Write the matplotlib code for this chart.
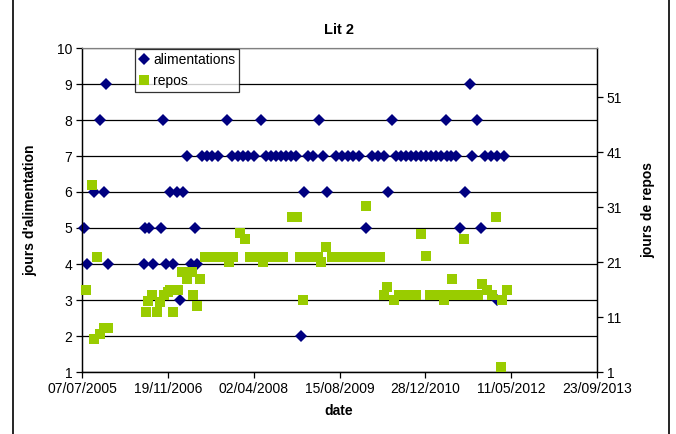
import matplotlib
matplotlib.use("Agg")
import matplotlib.pyplot as plt
import matplotlib.dates as mdates
from matplotlib.lines import Line2D
import pandas as pd

plt.rcParams['font.family'] = ['Liberation Sans', 'DejaVu Sans']

# Dates are Excel serial day numbers (origin 1899-12-30)
alim_dates = [
    38552, 38572, 38610, 38645, 38668, 38677, 38691, 38900, 38906, 38932,
    38953, 38999, 39011, 39031, 39052, 39072, 39092, 39110, 39127, 39153,
    39177, 39197, 39212, 39238, 39267, 39296, 39331, 39383, 39412, 39447,
    39476, 39505, 39540, 39584, 39610, 39639, 39668, 39697, 39726, 39755,
    39784, 39813, 39831, 39854, 39883, 39918, 39941, 39970, 40017, 40052,
    40087, 40121, 40156, 40197, 40232, 40267, 40302, 40325, 40348, 40371,
    40400, 40430, 40459, 40488, 40517, 40546, 40575, 40604, 40633, 40664,
    40662, 40691, 40720, 40744, 40773, 40802, 40813, 40842, 40866, 40889,
    40924, 40955, 40959, 40999,
]
alim_values = [
    5, 4, 6, 8, 6, 9, 4, 4, 5, 5,
    4, 5, 8, 4, 6, 4, 6, 3, 6, 7,
    4, 5, 4, 7, 7, 7, 7, 8, 7, 7,
    7, 7, 7, 8, 7, 7, 7, 7, 7, 7,
    7, 2, 6, 7, 7, 8, 7, 6, 7, 7,
    7, 7, 7, 5, 7, 7, 7, 6, 8, 7,
    7, 7, 7, 7, 7, 7, 7, 7, 7, 7,
    8, 7, 7, 5, 6, 9, 7, 8, 5, 7,
    7, 3, 7, 7,
]

repos_dates = [
    38563, 38598, 38610, 38630, 38645, 38668, 38691, 38912, 38924, 38947,
    38976, 38993, 39017, 39040, 39052, 39069, 39098, 39121, 39150, 39180,
    39185, 39209, 39226, 39255, 39284, 39313, 39342, 39366, 39395, 39418,
    39459, 39488, 39517, 39546, 39575, 39592, 39621, 39650, 39680, 39709,
    39761, 39790, 39807, 39825, 39837, 39866, 39895, 39912, 39935, 39964,
    39994, 40023, 40052, 40081, 40110, 40139, 40168, 40197, 40220, 40249,
    40278, 40302, 40319, 40360, 40389, 40418, 40453, 40488, 40517, 40546,
    40569, 40598, 40627, 40650, 40680, 40697, 40720, 40749, 40767, 40796,
    40825, 40848, 40871, 40900, 40930, 40953, 40982, 40988, 41017,
]
repos_values = [
    16, 35, 7, 22, 8, 9, 9, 12, 14, 15,
    12, 13.7, 15, 15.5, 16, 12, 16, 19.3, 18, 19.3,
    15, 13, 18, 22, 22, 22, 22, 22, 21, 22,
    26.3, 25.2, 22, 22, 22, 21, 22, 22, 22, 22,
    29.3, 29.3, 22, 14.2, 22, 22, 22, 22, 21, 23.7,
    22, 22, 22, 22, 22, 22, 22, 31.3, 22, 22,
    22, 15, 16.4, 14.2, 15, 15, 15, 15, 26.1, 22.1,
    15, 15, 15, 14.2, 15, 18, 15, 15, 25.2, 15,
    15, 15, 17, 16, 15, 29.3, 1.9, 14.2, 16,
]

x_tick_serials = [38540, 39040, 39540, 40040, 40540, 41040, 41540]
x_limits = (38540, 41540)
left_ticks = list(range(1, 11))
right_ticks = [1, 11, 21, 31, 41, 51]


def to_dates(serials):
    return pd.to_datetime(pd.Series(serials), unit='D', origin='1899-12-30')


W, H = 676, 434
fig = plt.figure(figsize=(W / 100, H / 100), dpi=100)
fig.patch.set_facecolor('white')

L, R, T, B = 82, 597, 48, 372
ax = fig.add_axes([L / W, 1 - B / H, (R - L) / W, (B - T) / H])
ax2 = ax.twinx()

navy = '#000080'
green = '#99CC00'
d_size = 5.9
s_size = 7.5

ax.plot(to_dates(alim_dates), alim_values, linestyle='none', marker='D',
        markersize=d_size, color=navy, markeredgewidth=0, zorder=3,
        clip_on=False)
ax2.plot(to_dates(repos_dates), repos_values, linestyle='none', marker='s',
         markersize=s_size, color=green, markeredgewidth=0, zorder=3,
         clip_on=False)

ax.set_xlim(to_dates(list(x_limits)))
ax.set_xticks(to_dates(x_tick_serials))
ax.xaxis.set_major_formatter(mdates.DateFormatter('%d/%m/%Y'))

ax.set_ylim(1, 10)
ax.set_yticks(left_ticks)
ax2.set_ylim(1, 60)
ax2.set_yticks(right_ticks)

ax.yaxis.grid(True, color='black', linewidth=0.9)
ax.set_axisbelow(True)

for a in (ax, ax2):
    a.tick_params(axis='both', direction='out', length=4, width=0.9,
                  colors='black', labelsize=10, pad=3)
    a.spines['top'].set_color('#808080')
    for s in ('left', 'right', 'bottom'):
        a.spines[s].set_color('black')
        a.spines[s].set_linewidth(0.9)
    a.set_facecolor('none')

ax.set_facecolor('white')

fig.text(339 / W, 1 - 30 / H, 'Lit 2', ha='center', va='center',
         fontsize=10.5, fontweight='bold')
fig.text(30 / W, 1 - 210 / H, "jours d'alimentation", ha='center',
         va='center', rotation=90, fontsize=10, fontweight='bold')
fig.text(648 / W, 1 - 210 / H, 'jours de repos', ha='center',
         va='center', rotation=90, fontsize=10, fontweight='bold')
fig.text(339 / W, 1 - 411 / H, 'date', ha='center', va='center',
         fontsize=10, fontweight='bold')

handles = [
    Line2D([], [], linestyle='none', marker='D', markersize=d_size,
           color=navy, markeredgewidth=0, label='alimentations'),
    Line2D([], [], linestyle='none', marker='s', markersize=s_size,
           color=green, markeredgewidth=0, label='repos'),
]
leg = ax2.legend(handles=handles, loc='upper left',
                 bbox_to_anchor=((135 - L) / (R - L), 1.0 - 1 / (B - T)),
                 fontsize=10, frameon=True, fancybox=False, borderpad=0.3,
                 handlelength=0.7, handletextpad=0.3, labelspacing=0.5,
                 borderaxespad=0.0)
leg.get_frame().set_edgecolor('black')
leg.get_frame().set_linewidth(0.9)
leg.get_frame().set_facecolor('white')

# chart area border (vertical edges)
fig.add_artist(Line2D([13 / W, 13 / W], [0, 1], color='black', linewidth=1.2))
fig.add_artist(Line2D([669 / W, 669 / W], [0, 1], color='black', linewidth=1.2))

fig.savefig('out.png', dpi=100, facecolor='white')
